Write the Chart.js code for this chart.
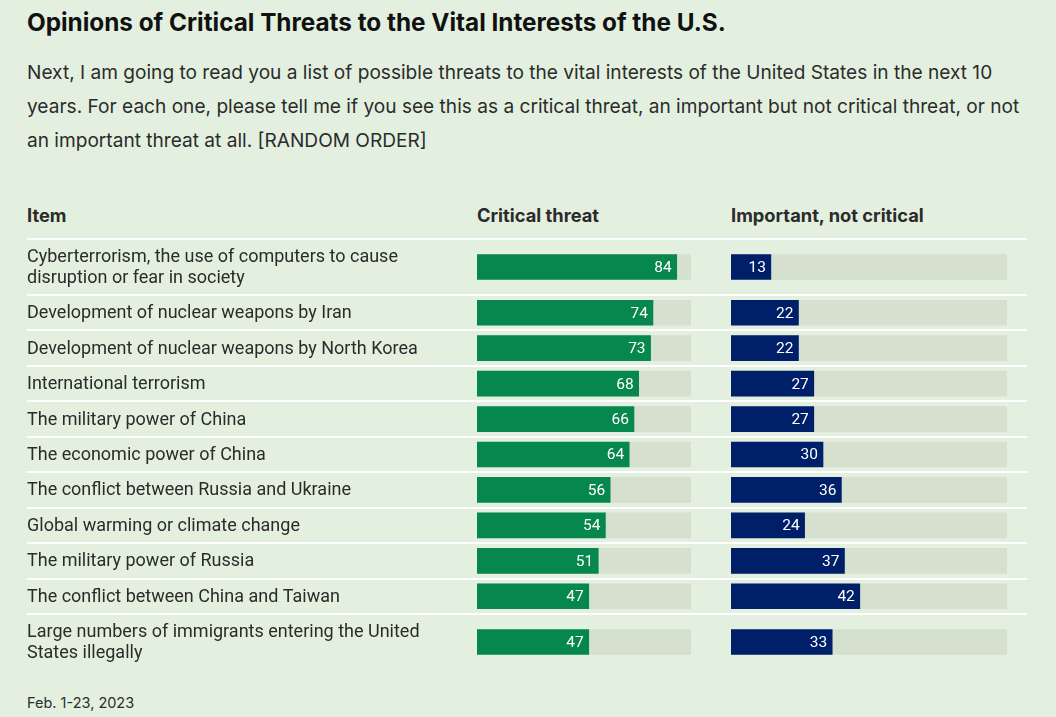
<!DOCTYPE html>
<html>
<head>
<meta charset="utf-8">
<script src="https://cdn.jsdelivr.net/npm/chart.js@4.4.1/dist/chart.umd.min.js"></script>
<style>
  html, body { margin: 0; padding: 0; background: #e3f0df; }
  body { width: 1056px; height: 717px; position: relative; overflow: hidden; color: #2b2b2b; }
  .t { position: absolute; white-space: nowrap; }
  #title { left: 27px; top: 7px; font: 700 24.3px/30px Inter, sans-serif; color: #111; }
  #sub { left: 27px; top: 55px; font: 400 19.1px/34px Inter, sans-serif; color: #2b2b2b; }
  .hd { top: 204px; font: 700 18.3px/22px Inter, sans-serif; color: #2b2b2b; }
  #foot { left: 27px; top: 694px; font: 400 14.5px/18px Inter, sans-serif; color: #2b2b2b; }
  #wrap { position: absolute; left: 27px; top: 236px; width: 1000px; height: 436px; }
</style>
</head>
<body>
<div class="t" id="title">Opinions of Critical Threats to the Vital Interests of the U.S.</div>
<div class="t" id="sub">Next, I am going to read you a list of possible threats to the vital interests of the United States in the next 10<br>years. For each one, please tell me if you see this as a critical threat, an important but not critical threat, or not<br>an important threat at all. [RANDOM ORDER]</div>
<div class="t hd" style="left:27px">Item</div>
<div class="t hd" style="left:477px">Critical threat</div>
<div class="t hd" style="left:731px">Important, not critical</div>
<div id="wrap"><canvas id="threats" width="1000" height="436"></canvas></div>
<div class="t" id="foot">Feb. 1-23, 2023</div>

<script>
// rows, top to bottom (line breaks as in the table)
const items = [
  ['Cyberterrorism, the use of computers to cause', 'disruption or fear in society'],
  ['Development of nuclear weapons by Iran'],
  ['Development of nuclear weapons by North Korea'],
  ['International terrorism'],
  ['The military power of China'],
  ['The economic power of China'],
  ['The conflict between Russia and Ukraine'],
  ['Global warming or climate change'],
  ['The military power of Russia'],
  ['The conflict between China and Taiwan'],
  ['Large numbers of immigrants entering the United', 'States illegally'],
];
const critical = [84, 74, 73, 68, 66, 64, 56, 54, 51, 47, 47];
const important = [13, 22, 22, 27, 27, 30, 36, 24, 37, 42, 33];
const trackMax = 90;

const GREEN = '#05874d';
const NAVY = '#001f69';
const TRACK = '#d5e0cf';

// row heights grow with the number of text lines
const weights = items.map(l => l.length + 0.72);
const bounds = [];
const centers = [];
let acc = 0;
weights.forEach(w => { bounds.push(acc); centers.push(acc + w / 2); acc += w; });
const total = acc;

const pts = arr => arr.map((v, i) => ({ x: v, y: centers[i] }));
const track = items.map(() => trackMax);

const labelPlugin = {
  id: 'rowLabels',
  afterDatasetsDraw(chart) {
    const ctx = chart.ctx;
    const y = chart.scales.y;
    const left = chart.chartArea.left;
    ctx.save();
    ctx.textBaseline = 'middle';
    // item names
    ctx.font = '18px Roboto';
    ctx.fillStyle = '#2b2b2b';
    ctx.textAlign = 'left';
    items.forEach((lines, i) => {
      const cy = y.getPixelForValue(centers[i]) + 1;
      lines.forEach((txt, j) => {
        ctx.fillText(txt, left, cy + (j - (lines.length - 1) / 2) * 21);
      });
    });
    // values at bar ends
    ctx.font = '15.5px Roboto';
    ctx.fillStyle = '#ffffff';
    ctx.textAlign = 'right';
    chart.data.datasets.forEach((ds, di) => {
      if (!ds.showValue) return;
      chart.getDatasetMeta(di).data.forEach((bar, i) => {
        ctx.fillText(String(ds.data[i].x), bar.x - 5, bar.y + 1);
      });
    });
    ctx.restore();
  }
};

const hiddenX = (weight, max) => ({
  type: 'linear', position: 'bottom', stack: 'cols', stackWeight: weight,
  display: false, min: 0, max: max
});

new Chart(document.getElementById('threats'), {
  type: 'bar',
  data: {
    datasets: [
      { data: pts(critical), xAxisID: 'xCrit', backgroundColor: GREEN, order: 1, showValue: true },
      { data: pts(track), xAxisID: 'xCrit', backgroundColor: TRACK, order: 2 },
      { data: pts(important), xAxisID: 'xImp', backgroundColor: NAVY, order: 1, showValue: true },
      { data: pts(track), xAxisID: 'xImp', backgroundColor: TRACK, order: 2 },
    ]
  },
  options: {
    indexAxis: 'y',
    responsive: false,
    animation: false,
    layout: { padding: { top: 3, bottom: 2, left: 0, right: 0 } },
    datasets: { bar: { grouped: false, barThickness: 25, borderWidth: 0 } },
    plugins: { legend: { display: false }, tooltip: { enabled: false } },
    scales: {
      y: {
        type: 'linear', position: 'left', reverse: true, min: 0, max: total,
        offset: false,
        ticks: { display: false },
        grid: { color: '#ffffff', lineWidth: 2, drawTicks: false, offset: false },
        border: { display: false },
        afterBuildTicks: s => { s.ticks = bounds.map(v => ({ value: v })); }
      },
      xItem: hiddenX(450, 1),
      xCrit: hiddenX(214, trackMax),
      xGap: hiddenX(40, 1),
      xImp: hiddenX(276, trackMax),
      xEnd: hiddenX(20, 1),
    }
  },
  plugins: [labelPlugin]
});
</script>
</body>
</html>
